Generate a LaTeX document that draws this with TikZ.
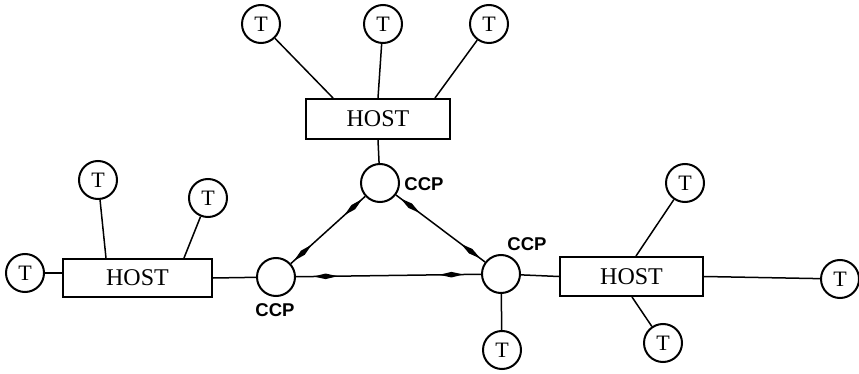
\documentclass[tikz,border=0pt]{standalone}
\usepackage{fontspec}
\setmainfont{Liberation Serif}
\newfontfamily\ccpfont{Liberation Sans}
\usetikzlibrary{decorations.markings}
\tikzset{
  term/.style={circle,draw,line width=2pt,minimum size=38pt,inner sep=0pt,font=\fontsize{22}{24}\selectfont},
  ccp/.style={circle,draw,line width=2pt,minimum size=38pt,inner sep=0pt},
  hostbox/.style={draw,line width=2pt,minimum width=144pt,minimum height=40pt,inner sep=0pt,font=\fontsize{24}{26}\selectfont},
  lbl/.style={font=\ccpfont\bfseries\fontsize{18.5}{20}\selectfont,inner sep=0pt},
  link/.style={line width=1.5pt},
  spindle/.style={line width=1.5pt,postaction={decorate},
    decoration={markings,
      mark=at position 0.16 with {\fill (-12pt,0) -- (0,2.8pt) -- (12pt,0) -- (0,-2.8pt) -- cycle;},
      mark=at position 0.84 with {\fill (-12pt,0) -- (0,2.8pt) -- (12pt,0) -- (0,-2.8pt) -- cycle;}}}
}
\begin{document}
\begin{tikzpicture}[x=1pt,y=-1pt]
\useasboundingbox (0,0) rectangle (859,374);
% hosts
\node[hostbox] (htop) at (378,119) {HOST};
\node[hostbox,minimum width=149pt,minimum height=38pt] (hleft) at (137.5,278) {HOST};
\node[hostbox,minimum width=143pt,minimum height=39pt] (hright) at (631.5,276.5) {HOST};
% CCPs
\node[ccp] (ccpT) at (380,183) {};
\node[ccp] (ccpL) at (276,277) {};
\node[ccp] (ccpR) at (501,274) {};
\node[lbl] (lT) at (424,184) {CCP};
\node[lbl] (lL) at (275,310) {CCP};
\node[lbl] (lR) at (527,244) {CCP};
% terminals
\node[term] (t1) at (261,24) {T};
\node[term] (t2) at (383,24) {T};
\node[term] (t3) at (489,24) {T};
\node[term] (t4) at (98,180) {T};
\node[term] (t5) at (208,198) {T};
\node[term] (t6) at (25,273) {T};
\node[term] (t7) at (502,350) {T};
\node[term] (t8) at (685,183) {T};
\node[term] (t9) at (663,343) {T};
\node[term] (t10) at (840,279) {T};
% links
\draw[link] (t1) -- ([xshift=28pt]htop.north west);
\draw[link] (t2) -- ([xshift=73pt]htop.north west);
\draw[link] (t3) -- ([xshift=130pt]htop.north west);
\draw[link] (htop.south) -- (ccpT);
\draw[link] (t4) -- ([xshift=44pt]hleft.north west);
\draw[link] (t5) -- ([xshift=122pt]hleft.north west);
\draw[link] (t6) -- (t6 -| hleft.west);
\draw[link] (hleft.east) -- (ccpL);
\draw[link] (ccpR) -- (hright.west);
\draw[link] (t8) -- ([xshift=77pt]hright.north west);
\draw[link] ([xshift=73pt]hright.south west) -- (t9);
\draw[link] (hright.east) -- (t10);
\draw[link] (ccpR) -- (t7);
% CCP triangle
\draw[spindle] (ccpT) -- (ccpL);
\draw[spindle] (ccpT) -- (ccpR);
\draw[spindle] (ccpL) -- (ccpR);
\end{tikzpicture}
\end{document}
